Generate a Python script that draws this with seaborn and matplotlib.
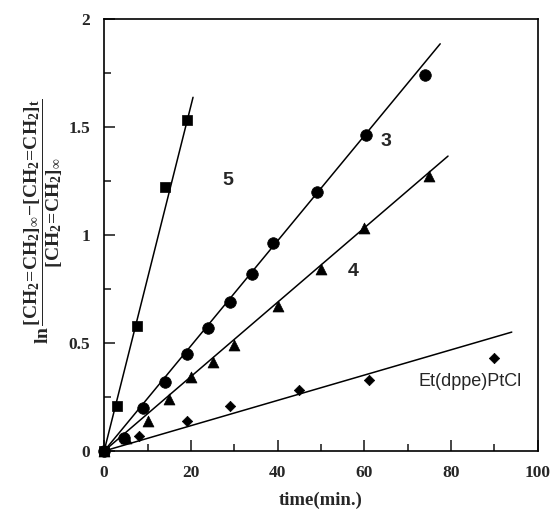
import matplotlib
matplotlib.use("Agg")
import matplotlib.pyplot as plt
import numpy as np
import pandas as pd
import seaborn as sns
from matplotlib.ticker import MultipleLocator, FormatStrFormatter


# data
series_names = ["5", "3", "4", "Et(dppe)PtCl"]

t_5 = [0, 3, 7.5, 14, 19]
y_5 = [0.0, 0.21, 0.58, 1.22, 1.53]

t_3 = [0, 4.5, 9, 14, 19, 24, 29, 34, 39, 49, 60.5, 74]
y_3 = [0.0, 0.06, 0.20, 0.32, 0.45, 0.57, 0.69, 0.82, 0.96, 1.20, 1.46, 1.74]

t_4 = [0, 5, 10, 15, 20, 25, 30, 40, 50, 60, 75]
y_4 = [0.0, 0.06, 0.14, 0.24, 0.34, 0.41, 0.49, 0.67, 0.84, 1.03, 1.27]

t_pt = [0, 8, 19, 29, 45, 61, 90]
y_pt = [0.0, 0.07, 0.14, 0.21, 0.28, 0.33, 0.43]

# linear fits through the origin: slope and end of drawn line
fit_slope = [0.0798, 0.0243, 0.0172, 0.00585]
fit_end = [20.5, 77.5, 79.3, 94.0]

# label positions (data coords)
label_x = [28.6, 65.0, 57.4, 84.5]
label_y = [1.25, 1.43, 0.83, 0.32]


def main() -> None:
    sns.set_theme(style="white")
    plt.rcParams["font.family"] = ["Liberation Serif", "DejaVu Serif"]
    plt.rcParams["mathtext.fontset"] = "custom"
    plt.rcParams["mathtext.rm"] = "Liberation Serif:bold"
    plt.rcParams["mathtext.it"] = "Liberation Serif:bold"
    plt.rcParams["mathtext.bf"] = "Liberation Serif:bold"

    frames = []
    for name, t, y in zip(series_names, [t_5, t_3, t_4, t_pt], [y_5, y_3, y_4, y_pt]):
        frames.append(pd.DataFrame({"time": t, "value": y, "series": name}))
    pts = pd.concat(frames, ignore_index=True)

    fits = []
    for name, k, xe in zip(series_names, fit_slope, fit_end):
        xs = np.array([0.0, xe])
        fits.append(pd.DataFrame({"time": xs, "value": k * xs, "series": name}))
    fit_df = pd.concat(fits, ignore_index=True)

    fig = plt.figure(figsize=(5.51, 5.16), dpi=100)
    ax = fig.add_axes([0.189, 0.126, 0.787, 0.838])

    sns.lineplot(data=fit_df, x="time", y="value", units="series", estimator=None,
                 color="black", lw=1.1, ax=ax, sort=False)

    markers = {"5": "s", "3": "o", "4": "^", "Et(dppe)PtCl": "D"}
    sizes = {"5": 60, "3": 70, "4": 62, "Et(dppe)PtCl": 28}
    for name in series_names:
        sub = pts[pts["series"] == name]
        sns.scatterplot(data=sub, x="time", y="value", marker=markers[name],
                        s=sizes[name], color="black", edgecolor="black",
                        linewidth=0.5, ax=ax, zorder=3, legend=False,
                        clip_on=False)

    for name, lx, ly in zip(series_names, label_x, label_y):
        bold = name != "Et(dppe)PtCl"
        ax.text(lx, ly, name, ha="center", va="center",
                family=["Liberation Sans", "DejaVu Sans"],
                fontweight="bold" if bold else "normal",
                fontsize=14 if bold else 13)

    ax.set_xlim(0, 100)
    ax.set_ylim(0, 2)
    ax.xaxis.set_major_locator(MultipleLocator(20))
    ax.xaxis.set_minor_locator(MultipleLocator(10))
    ax.yaxis.set_major_locator(MultipleLocator(0.5))
    ax.yaxis.set_minor_locator(MultipleLocator(0.25))
    ax.yaxis.set_major_formatter(FormatStrFormatter("%g"))
    ax.tick_params(which="major", direction="in", length=8, width=1.2,
                   labelsize=12.5, pad=10)
    ax.tick_params(which="minor", direction="in", length=5, width=1.2)
    ax.tick_params(axis="x", which="both", bottom=True, top=False)
    ax.tick_params(axis="y", which="both", left=True, right=False)
    for lab in ax.get_xticklabels() + ax.get_yticklabels():
        lab.set_fontweight("bold")

    for sp in ax.spines.values():
        sp.set_color("black")
        sp.set_linewidth(1.2)

    ax.set_xlabel("time(min.)", fontsize=13.5, fontweight="bold", labelpad=8)
    ax.set_ylabel(r"$\mathrm{ln}\,\dfrac{[CH_2\!=\!CH_2]_\infty\!-\![CH_2\!=\!CH_2]_t}{[CH_2\!=\!CH_2]_\infty}$",
                  fontsize=14, labelpad=4)
    ax.yaxis.set_label_coords(-0.09, 0.53)

    fig.savefig("out.png", dpi=100)
    plt.close(fig)


if __name__ == "__main__":
    main()
